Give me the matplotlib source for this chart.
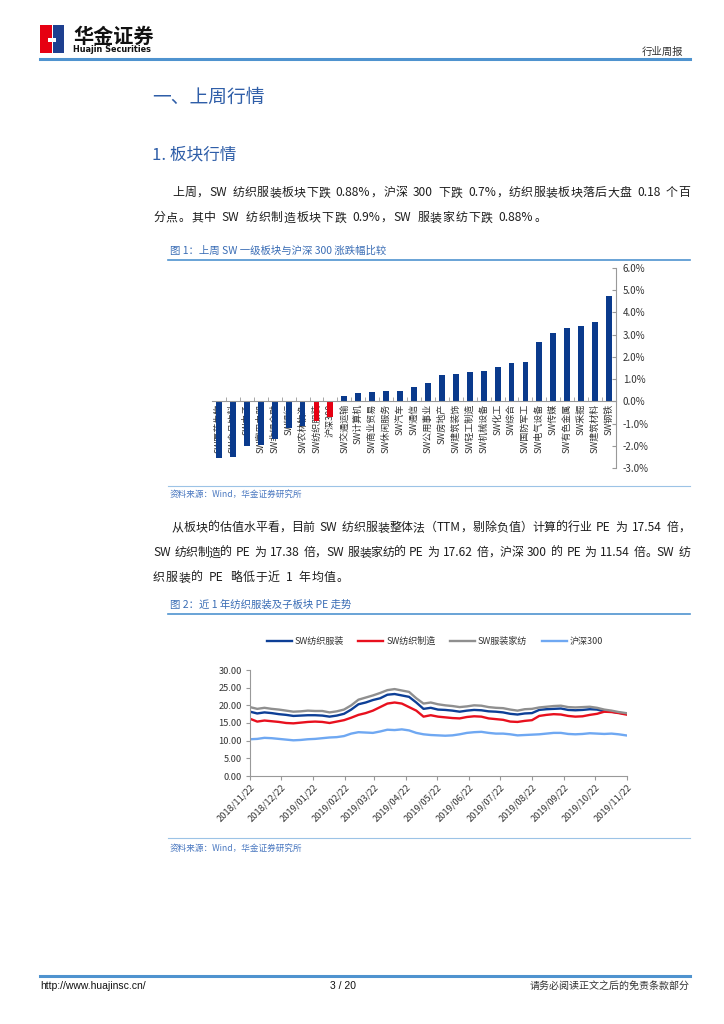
import matplotlib
matplotlib.use('Agg')
import matplotlib.pyplot as plt
from matplotlib.patches import Rectangle
from matplotlib.lines import Line2D
from matplotlib.ticker import FuncFormatter
import numpy as np
import pandas as pd
import re

plt.rcParams['font.family'] = ['Noto Sans CJK SC', 'DejaVu Sans']
plt.rcParams['axes.unicode_minus'] = False

# ---------------- data ----------------
bar_categories = ['SW医药生物', 'SW食品饮料', 'SW电子', 'SW家用电器', 'SW非银金融', 'SW银行',
                  'SW农林牧渔', 'SW纺织服装', '沪深300', 'SW交通运输', 'SW计算机', 'SW商业贸易',
                  'SW休闲服务', 'SW汽车', 'SW通信', 'SW公用事业', 'SW房地产', 'SW建筑装饰',
                  'SW轻工制造', 'SW机械设备', 'SW化工', 'SW综合', 'SW国防军工', 'SW电气设备',
                  'SW传媒', 'SW有色金属', 'SW采掘', 'SW建筑材料', 'SW钢铁']
bar_values = [-2.55, -2.5, -2.0, -1.95, -1.7, -1.2, -1.1, -0.88, -0.70, 0.22, 0.37, 0.40,
              0.45, 0.48, 0.63, 0.82, 1.17, 1.21, 1.32, 1.37, 1.55, 1.72, 1.79, 2.68,
              3.08, 3.28, 3.37, 3.59, 4.72]
highlight = ['SW纺织服装', '沪深300']
bar_ticks = [-3, -2, -1, 0, 1, 2, 3, 4, 5, 6]

pe_dates = pd.date_range('2018-11-22', periods=53, freq='7D')
pe_textile_apparel = [18.2, 17.7, 18.0, 17.8, 17.5, 17.3, 17.0, 17.1, 17.2, 17.2, 17.1, 16.8, 17.1,
                      17.6, 18.8, 20.3, 20.8, 21.5, 22.0, 23.0, 23.2, 22.8, 22.4, 20.8, 19.0, 19.3,
                      18.8, 18.7, 18.5, 18.2, 18.5, 18.7, 18.6, 18.3, 18.2, 18.0, 17.6, 17.4, 17.7,
                      17.8, 18.7, 18.9, 19.0, 19.1, 18.7, 18.6, 18.7, 18.9, 18.8, 18.3, 18.2, 17.9, 17.6]
pe_textile_mfg = [16.2, 15.4, 15.7, 15.5, 15.3, 15.0, 14.9, 15.1, 15.3, 15.4, 15.3, 15.0, 15.4,
                  15.8, 16.5, 17.3, 17.8, 18.5, 19.5, 20.5, 20.8, 20.5, 19.5, 18.5, 16.8, 17.2,
                  16.8, 16.6, 16.4, 16.3, 16.7, 16.9, 16.8, 16.3, 16.1, 15.9, 15.4, 15.3, 15.6,
                  15.8, 17.0, 17.3, 17.5, 17.4, 17.0, 16.8, 16.9, 17.3, 17.6, 18.2, 18.1, 17.8, 17.4]
pe_apparel_home = [19.5, 19.0, 19.3, 19.0, 18.8, 18.5, 18.2, 18.3, 18.5, 18.4, 18.4, 18.0, 18.3,
                   18.8, 20.0, 21.6, 22.2, 22.8, 23.5, 24.3, 24.6, 24.2, 23.8, 22.0, 20.5, 20.8,
                   20.3, 20.0, 19.8, 19.5, 19.7, 20.0, 19.9, 19.5, 19.3, 19.2, 18.8, 18.5, 18.9,
                   19.0, 19.4, 19.6, 19.8, 19.9, 19.5, 19.4, 19.5, 19.6, 19.3, 18.8, 18.5, 18.1, 17.8]
pe_hs300 = [10.4, 10.5, 10.8, 10.7, 10.5, 10.3, 10.1, 10.2, 10.4, 10.5, 10.7, 10.9, 11.0,
            11.3, 12.0, 12.4, 12.3, 12.2, 12.6, 13.1, 13.0, 13.2, 12.9, 12.2, 11.8, 11.6,
            11.5, 11.4, 11.5, 11.8, 12.2, 12.4, 12.5, 12.2, 12.0, 12.0, 11.8, 11.5, 11.6,
            11.7, 11.8, 12.0, 12.2, 12.2, 11.9, 11.8, 11.9, 12.1, 12.0, 11.9, 12.0, 11.8, 11.5]
pe_series_names = ['SW纺织服装', 'SW纺织制造', 'SW服装家纺', '沪深300']
pe_tick_dates = ['2018/11/22', '2018/12/22', '2019/01/22', '2019/02/22', '2019/03/22',
                 '2019/04/22', '2019/05/22', '2019/06/22', '2019/07/22', '2019/08/22',
                 '2019/09/22', '2019/10/22', '2019/11/22']
pe_yticks = [0, 5, 10, 15, 20, 25, 30]

# ---------------- page ----------------
W, H = 724, 1024
fig = plt.figure(figsize=(7.24, 10.24), dpi=100)
renderer = fig.canvas.get_renderer()


def fx(x):
    return x / W


def fy(y):
    return 1 - y / H


def hline(x1, x2, y, color, lw):
    fig.add_artist(Line2D([fx(x1), fx(x2)], [fy(y), fy(y)], transform=fig.transFigure,
                          color=color, lw=lw))


def txt(x, y, s, size, color='#1a1a1a', ha='left', **kw):
    fig.text(fx(x), fy(y), s, fontsize=size, color=color, ha=ha, va='center', **kw)


def just_text(x, y, s, size, color, target=None, gap=0.6):
    """Draw a body-text line; if target is given, spread it to that pixel width."""
    tokens = re.findall(r'[!-~]+| |.', s)
    base = y + size * 1.389 * 0.36
    arts, widths = [], []
    for t in tokens:
        if t == ' ':
            arts.append(None)
            widths.append(size * 1.389 * 0.38)
        else:
            a = fig.text(0, fy(base), t, fontsize=size, color=color, ha='left', va='baseline')
            arts.append(a)
            widths.append(a.get_window_extent(renderer).width)
    if target is not None:
        gap = (target - sum(widths)) / (len(tokens) - 1)
    cx = x
    for a, w in zip(arts, widths):
        if a is not None:
            a.set_x(fx(cx))
        cx += w + gap


BLUE_RULE = '#4f93cf'
HEAD_BLUE = '#2f5ea8'
TEXT = '#1e1e1e'
CAP_BLUE = '#3a6db5'

# header logo
fig.add_artist(Rectangle((fx(40), fy(53)), fx(12), 28 / H, transform=fig.transFigure,
                         color='#e60012', lw=0))
fig.add_artist(Rectangle((fx(53), fy(53)), fx(11), 28 / H, transform=fig.transFigure,
                         color='#1e3f8f', lw=0))
fig.add_artist(Rectangle((fx(48), fy(42)), fx(8), 4 / H, transform=fig.transFigure,
                         color='white', lw=0))
txt(73, 36, '华金证券', 14.5, color='#111111', fontweight='bold')
txt(73, 49, 'Huajin Securities', 5.9, color='#111111', fontweight='bold', family='DejaVu Sans')
txt(683, 52, '行业周报', 7.5, color='#333333', ha='right')
hline(40, 690, 59, BLUE_RULE, 2.2)

# headings
txt(152, 97, '一、上周行情', 13.5, color=HEAD_BLUE)
txt(152, 155, '1. 板块行情', 12, color=HEAD_BLUE)

# paragraph 1
just_text(172, 192, '上周，SW 纺织服装板块下跌 0.88%，沪深 300 下跌 0.7%，纺织服装板块落后大盘 0.18 个百',
          8.6, TEXT, target=518)
just_text(153, 217, '分点。其中 SW 纺织制造板块下跌 0.9%，SW 服装家纺下跌 0.88%。', 8.6, TEXT, gap=0.8)

# caption 1
txt(170, 251, '图 1：上周 SW 一级板块与沪深 300 涨跌幅比较', 7.5, color=CAP_BLUE)
hline(168, 690, 260, BLUE_RULE, 1.2)

# ---------------- bar chart ----------------
ax1 = fig.add_axes([fx(212), fy(468), (616 - 212) / W, 200 / H])
xpos = np.arange(len(bar_categories))
colors = ['#e60012' if c in highlight else '#0a3a8c' for c in bar_categories]
ax1.bar(xpos, bar_values, width=0.42, color=colors, zorder=2)
ax1.set_xlim(-0.5, len(bar_categories) - 0.5)
ax1.set_ylim(-3, 6)
ax1.yaxis.tick_right()
ax1.set_yticks(bar_ticks)
ax1.yaxis.set_major_formatter(FuncFormatter(lambda v, p: f'{v:.1f}%'))
ax1.tick_params(axis='y', direction='in', length=3, color='#999999', labelsize=7,
                labelcolor='#333333', pad=5)
for s in ['left', 'top']:
    ax1.spines[s].set_visible(False)
ax1.spines['right'].set_color('#999999')
ax1.spines['right'].set_linewidth(0.8)
ax1.spines['bottom'].set_position(('data', 0))
ax1.spines['bottom'].set_color('#999999')
ax1.spines['bottom'].set_linewidth(0.8)
ax1.set_xticks(xpos)
ax1.set_xticklabels(bar_categories, rotation=90, fontsize=6.5, color='#333333')
ax1.tick_params(axis='x', which='major', length=0, pad=2)
ax1.set_xticks(xpos + 0.5, minor=True)
ax1.tick_params(axis='x', which='minor', direction='in', length=3, color='#999999')
ax1.patch.set_alpha(0)

hline(168, 690, 486, '#9cc3e6', 0.8)
txt(170, 494, '资料来源：Wind，华金证券研究所', 6.2, color='#4a78c0')

# paragraph 2
just_text(172, 527, '从板块的估值水平看，目前 SW 纺织服装整体法（TTM，剔除负值）计算的行业 PE 为 17.54 倍，',
          8.6, TEXT, target=518)
just_text(153, 552, 'SW 纺织制造的 PE 为 17.38 倍，SW 服装家纺的 PE 为 17.62 倍，沪深 300 的 PE 为 11.54 倍。SW 纺',
          8.6, TEXT, target=537)
just_text(153, 577, '织服装的 PE 略低于近 1 年均值。', 8.6, TEXT, gap=0.8)

txt(170, 605, '图 2：近 1 年纺织服装及子板块 PE 走势', 7.5, color=CAP_BLUE)
hline(168, 690, 614, BLUE_RULE, 1.2)

# ---------------- line chart ----------------
ax2 = fig.add_axes([fx(250), fy(776), (627 - 250) / W, 106 / H])
line_colors = ['#0d3f96', '#e8101e', '#8f8f8f', '#6fa8f2']
for name, vals, col in zip(pe_series_names,
                           [pe_textile_apparel, pe_textile_mfg, pe_apparel_home, pe_hs300],
                           line_colors):
    ax2.plot(pe_dates, vals, color=col, lw=1.7, label=name)
ticks_dt = pd.to_datetime(pe_tick_dates, format='%Y/%m/%d')
ax2.set_xlim(ticks_dt[0], ticks_dt[-1])
ax2.set_ylim(0, 30)
ax2.set_yticks(pe_yticks)
ax2.yaxis.set_major_formatter(FuncFormatter(lambda v, p: f'{v:.2f}'))
ax2.set_xticks(ticks_dt)
ax2.set_xticklabels(pe_tick_dates, rotation=45, ha='right', rotation_mode='anchor',
                    fontsize=6.7, color='#333333')
ax2.tick_params(axis='y', labelsize=6.7, labelcolor='#333333', length=3, color='#999999', pad=3)
ax2.tick_params(axis='x', length=3, color='#999999', pad=2)
for s in ['right', 'top']:
    ax2.spines[s].set_visible(False)
for s in ['left', 'bottom']:
    ax2.spines[s].set_color('#999999')
    ax2.spines[s].set_linewidth(0.8)
ax2.patch.set_alpha(0)
ax2.legend(loc='center', bbox_to_anchor=(0.49, 1.27), ncol=4, frameon=False, fontsize=6.5,
           handlelength=2.8, columnspacing=1.6, handletextpad=0.3, labelcolor='#333333')

hline(168, 690, 838, '#9cc3e6', 0.8)
txt(170, 848, '资料来源：Wind，华金证券研究所', 6.2, color='#4a78c0')

# footer
hline(40, 690, 976, BLUE_RULE, 2.2)
txt(40, 986, 'http://www.huajinsc.cn/', 7.5, color='#111111', family='Liberation Sans')
txt(330, 986, '3 / 20', 7.5, color='#111111', family='Liberation Sans')
txt(690, 986, '请务必阅读正文之后的免责条款部分', 7.2, color='#333333', ha='right')

fig.savefig('out.png', dpi=100, facecolor='white')
